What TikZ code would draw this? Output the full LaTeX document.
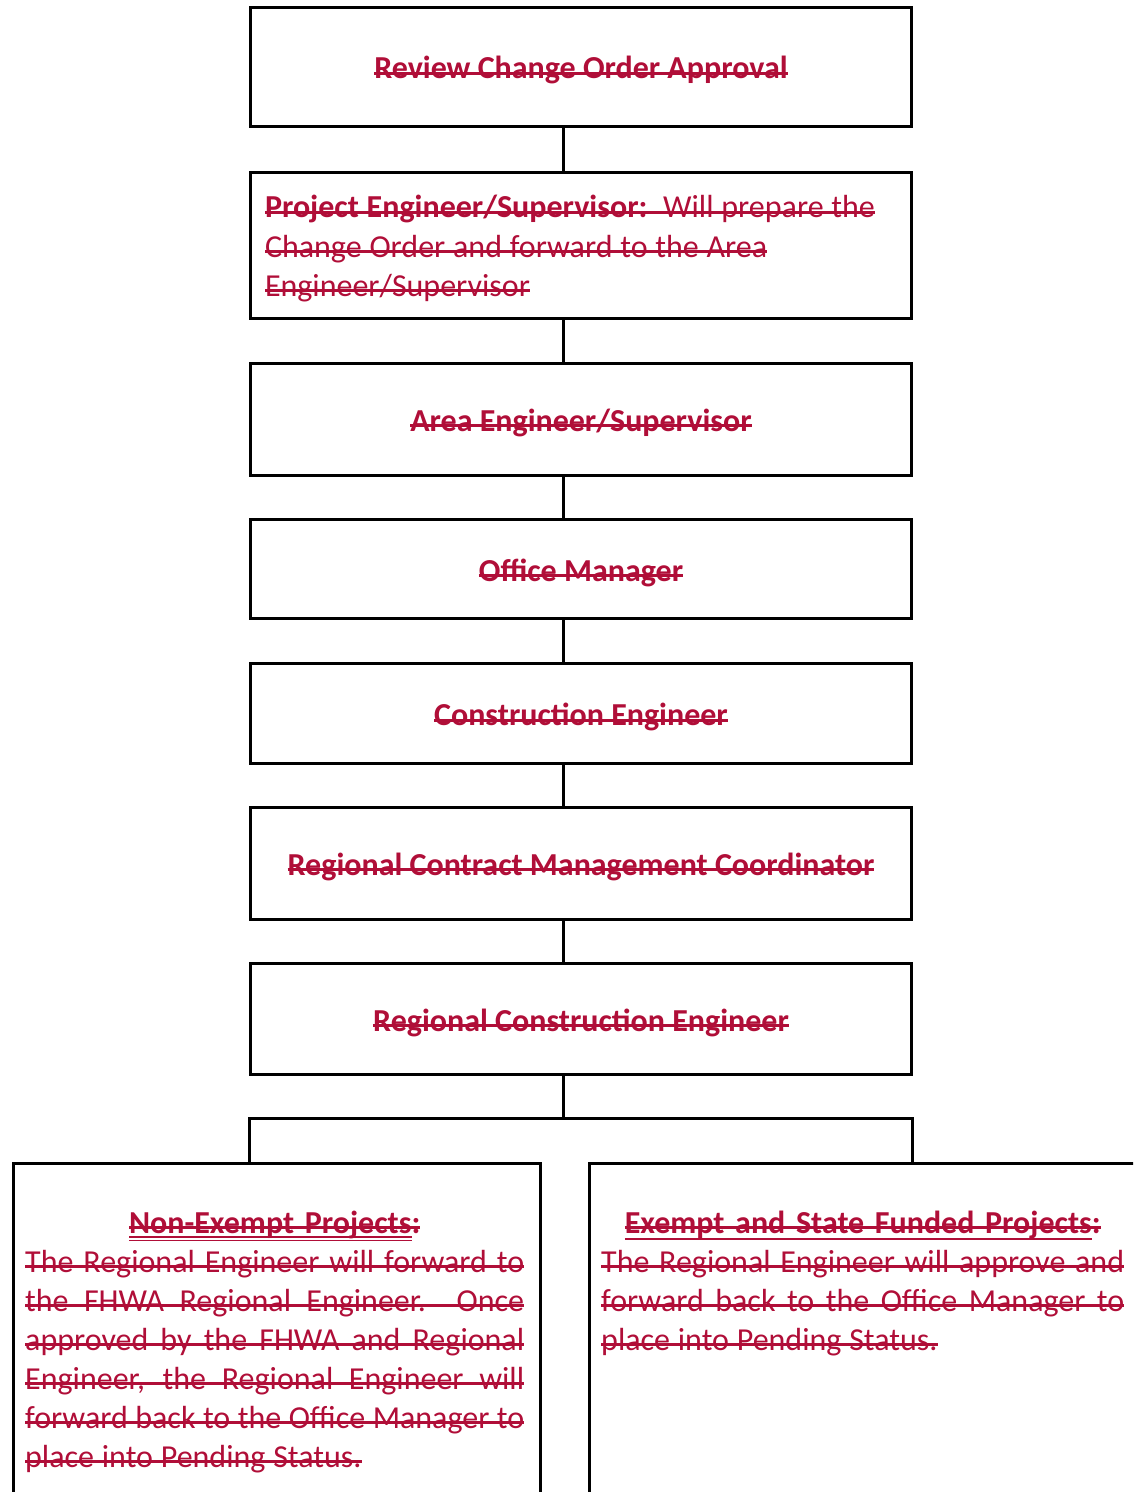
\documentclass[tikz,border=0pt]{standalone}
\usepackage{fontspec}
\setmainfont{Carlito}
\usetikzlibrary{calc}
\definecolor{delred}{RGB}{176,14,56}
\newsavebox\strkbox
\newcommand\tightsp{\spaceskip=7.8bp plus 3bp minus 1bp\relax}
% struck-through text
\newcommand\strk[1]{\leavevmode\sbox\strkbox{#1}\rlap{\rule[3.8bp]{\wd\strkbox}{2.8bp}}\usebox\strkbox}
% struck-through text with narrower word spaces
\newcommand\tstrk[1]{\strk{\tightsp #1}}
% struck-through and single underlined
\newcommand\ustrk[1]{\leavevmode\sbox\strkbox{#1}\rlap{\rule[3.8bp]{\wd\strkbox}{2.8bp}}\rlap{\rule[-7bp]{\wd\strkbox}{2bp}}\usebox\strkbox}
% struck-through and double underlined
\newcommand\uustrk[1]{\leavevmode\sbox\strkbox{#1}\rlap{\rule[3.8bp]{\wd\strkbox}{2.8bp}}\rlap{\rule[-4.8bp]{\wd\strkbox}{1.4bp}}\rlap{\rule[-8.1bp]{\wd\strkbox}{1.4bp}}\usebox\strkbox}
% justified struck line
\newcommand\jline[1]{\strk{\hbox to\linewidth{\spaceskip=7.8bp plus 20bp minus 2bp\relax #1}}}
\begin{document}
\begin{tikzpicture}[x=1bp,y=-1bp,
  box/.style={draw=black, line width=3bp, minimum width=660bp, inner sep=0pt,
    text height=30bp, text depth=6bp,
    text=delred, font=\fontsize{32bp}{39bp}\selectfont\bfseries, align=center},
  bigbox/.style={draw=black, line width=3bp, inner sep=0pt, anchor=north west},
  conn/.style={draw=black, line width=3bp},
  txt/.style={inner sep=0pt, text=delred, font=\fontsize{32bp}{39bp}\selectfont,
    align=left, anchor=base west}]
\useasboundingbox (0,0) rectangle (1133,1492);
\clip (0,0) rectangle (1133,1492);
\node[box, minimum height=119bp] (b1) at (581,67) {\strk{Review Change Order Approval}};
\node[box, minimum height=146bp, text width=632bp, inner xsep=14bp, align=left,
  text height=24bp, text depth=79bp,
  font=\fontsize{32bp}{39bp}\selectfont] (b2) at (581,245.5)
  {\tstrk{\textbf{Project Engineer/Supervisor:}\ \ Will prepare the}\\
   \tstrk{Change Order and forward to the Area}\\
   \tstrk{Engineer/Supervisor}};
\node[box, minimum height=112bp] (b3) at (581,419) {\strk{Area Engineer/Supervisor}};
\node[box, minimum height=99bp] (b4) at (581,569) {\strk{Office Manager}};
\node[box, minimum height=100bp] (b5) at (581,713.5) {\strk{Construction Engineer}};
\node[box, minimum height=112bp] (b6) at (581,863) {\strk{Regional Contract Management Coordinator}};
\node[box, minimum height=111bp] (b7) at (581,1019) {\strk{Regional Construction Engineer}};
\node[bigbox, minimum width=527bp, minimum height=360bp] (nonex) at (11.5,1161.5) {};
\node[bigbox, minimum width=551bp, minimum height=360bp] (exempt) at (587.5,1161.5) {};
\node[txt, text width=499bp] (nonexT) at (25,1233)
  {\makebox[\linewidth][c]{\bfseries\uustrk{Non-Exempt Projects}\strk{:}}\\
   \jline{The Regional Engineer will forward to}\\
   \jline{the FHWA Regional Engineer.\ \ Once}\\
   \jline{approved by the FHWA and Regional}\\
   \jline{Engineer, the Regional Engineer will}\\
   \jline{forward back to the Office Manager to}\\
   \tstrk{place into Pending Status.}};
\node[txt, text width=523bp] (exemptT) at (601,1233)
  {\makebox[\linewidth][c]{\bfseries\ustrk{Exempt and State Funded Projects}\strk{:}}\\
   \jline{The Regional Engineer will approve and}\\
   \jline{forward back to the Office Manager to}\\
   \tstrk{place into Pending Status.}};
\coordinate (spine) at (563,0);
\foreach \a/\b in {b1/b2,b2/b3,b3/b4,b4/b5,b5/b6,b6/b7}
  \draw[conn] (\a.south -| spine) -- (\b.north -| spine);
\coordinate (j) at (563,1118);
\draw[conn] (b7.south -| spine) -- (j);
\draw[conn] (b7.west |- nonex.north) -- (j -| b7.west) -- (j -| b7.east) -- (b7.east |- exempt.north);
\end{tikzpicture}
\end{document}
